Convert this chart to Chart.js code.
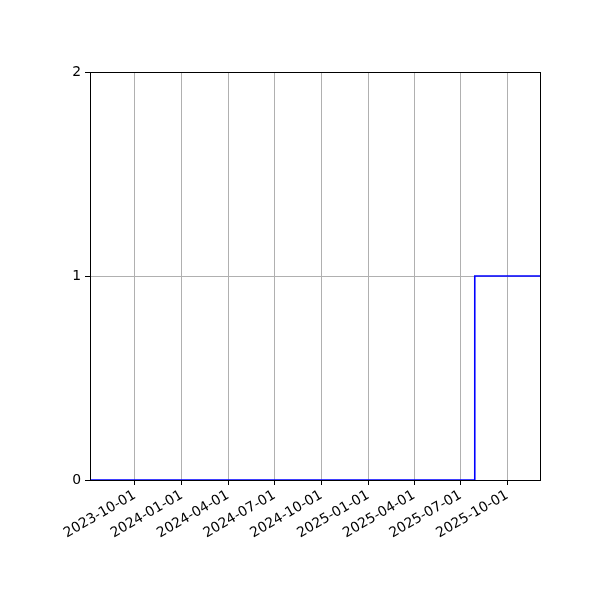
<!DOCTYPE html>
<html>
<head>
<meta charset="utf-8">
<script src="https://cdn.jsdelivr.net/npm/chart.js@4/dist/chart.umd.min.js"></script>
<style>
  html, body { margin: 0; padding: 0; background: #fff; }
  #wrap { width: 600px; height: 600px; }
</style>
</head>
<body>
<div id="wrap"><canvas id="myChart" width="600" height="600"></canvas></div>
<script>
// step series: count over time
const dates = ['2023-07-05', '2025-07-29', '2025-12-04'];
const counts = [0, 1, 1];
const tickDates = ['2023-10-01', '2024-01-01', '2024-04-01', '2024-07-01', '2024-10-01',
                   '2025-01-01', '2025-04-01', '2025-07-01', '2025-10-01'];
const yTicks = [0, 1, 2];

const toMs = d => Date.parse(d + 'T00:00:00Z');
const fmt = ms => new Date(ms).toISOString().slice(0, 10);

const points = dates.map((d, i) => ({ x: toMs(d), y: counts[i] }));

// draw the full black frame round the plot area
const frame = {
    id: 'frame',
    afterDraw(chart) {
        const a = chart.chartArea;
        const ctx = chart.ctx;
        ctx.save();
        ctx.strokeStyle = '#000';
        ctx.lineWidth = 1;
        ctx.strokeRect(Math.round(a.left) + 0.5, Math.round(a.top) + 0.5,
                       Math.round(a.right - a.left), Math.round(a.bottom - a.top));
        ctx.restore();
    }
};

const ctx = document.getElementById('myChart');
new Chart(ctx, {
    type: 'line',
    data: {
        datasets: [{
            data: points,
            borderColor: '#0000ff',
            borderWidth: 1.6,
            stepped: true,
            pointRadius: 0,
            fill: false
        }]
    },
    options: {
        responsive: false,
        animation: false,
        layout: { padding: { top: 72, right: 60, left: 0, bottom: 0 } },
        plugins: { legend: { display: false }, tooltip: { enabled: false } },
        scales: {
            x: {
                type: 'linear',
                min: toMs(dates[0]),
                max: toMs(dates[dates.length - 1]),
                afterBuildTicks(axis) {
                    axis.ticks = tickDates.map(d => ({ value: toMs(d) }));
                },
                afterFit(axis) { axis.height = 120; },
                ticks: {
                    callback: v => fmt(v),
                    minRotation: 30,
                    maxRotation: 30,
                    autoSkip: false,
                    color: '#000',
                    font: { family: 'DejaVu Sans', size: 13.9 },
                    padding: 2
                },
                grid: { color: '#b0b0b0', lineWidth: 1, tickColor: '#000', tickLength: 5 },
                border: { display: true, color: '#000' }
            },
            y: {
                min: 0,
                max: 2,
                afterBuildTicks(axis) {
                    axis.ticks = yTicks.map(v => ({ value: v }));
                },
                afterFit(axis) { axis.width = 90; },
                ticks: {
                    color: '#000',
                    font: { family: 'DejaVu Sans', size: 13.9 },
                    padding: 4
                },
                grid: { color: '#b0b0b0', lineWidth: 1, tickColor: '#000', tickLength: 5 },
                border: { display: true, color: '#000' }
            }
        }
    },
    plugins: [frame]
});
</script>
</body>
</html>
